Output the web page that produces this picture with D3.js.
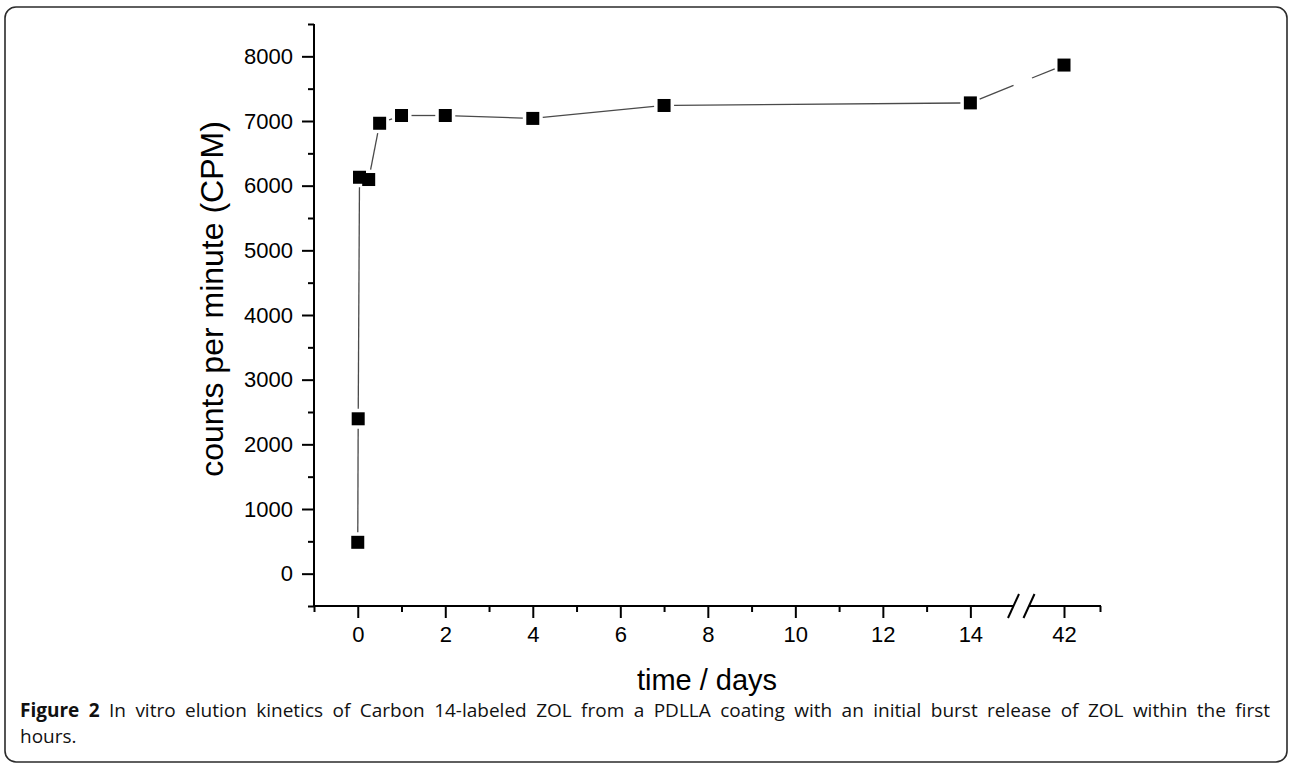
<!DOCTYPE html>
<html><head><meta charset="utf-8">
<script src="https://cdn.jsdelivr.net/npm/d3@7"></script>
<style>body{margin:0;background:#fff;} svg{display:block;}</style>
</head><body><svg id="chart" width="1290" height="768"></svg>
<script>
// ---- data ----
const timeDays = [0, 0.01, 0.04, 0.25, 0.5, 1, 2, 4, 7, 14, 42];
const cpm = [485, 2395, 6130, 6095, 6965, 7085, 7085, 7040, 7240, 7280, 7865];
const xTickValues = [0, 2, 4, 6, 8, 10, 12, 14, 42];
const xMinorTickValues = [-1, 1, 3, 5, 7, 9, 11, 13, 43];
const yTickValues = [0, 1000, 2000, 3000, 4000, 5000, 6000, 7000, 8000];
const yMinorTickValues = [-500, 500, 1500, 2500, 3500, 4500, 5500, 6500, 7500, 8500];
const xTitle = "time / days";
const yTitle = "counts per minute (CPM)";
const captionBold = "Figure 2";
const captionLines = [
  "In vitro elution kinetics of Carbon 14-labeled ZOL from a PDLLA coating with an initial burst release of ZOL within the first",
  "hours."
];

// ---- layout ----
const svg = d3.select("#chart");
const L = 314, R = 1100, T = 24, B = 606;
const x = d3.scaleLinear().domain([-1, 15.1, 41, 43]).range([L, 1018.5, 1028, R]);
const y = d3.scaleLinear().domain([-500, 8500]).range([B, T]);

// frame
svg.append("rect").attr("x", 5).attr("y", 7).attr("width", 1282).attr("height", 755)
  .attr("rx", 11).attr("fill", "none").attr("stroke", "#2b2b2b").attr("stroke-width", 1.6);

const axisFont = "'Liberation Sans', Arial, sans-serif";

// y axis
const gy = svg.append("g").attr("transform", `translate(${L},0)`);
gy.call(d3.axisLeft(y).tickValues(yTickValues).tickSize(12).tickSizeOuter(0).tickPadding(9).tickFormat(d3.format("d")));
gy.append("g").call(d3.axisLeft(y).tickValues(yMinorTickValues).tickSize(6).tickSizeOuter(0).tickFormat(""));
gy.selectAll(".domain").remove();
gy.selectAll("line").attr("stroke", "#000").attr("stroke-width", 2);
gy.selectAll("text").style("font-family", axisFont).style("font-size", "22px").attr("fill", "#000");
gy.append("line").attr("x1", 0).attr("x2", 0).attr("y1", T).attr("y2", B + 1)
  .attr("stroke", "#000").attr("stroke-width", 2);

// x axis
const gx = svg.append("g").attr("transform", `translate(0,${B})`);
gx.call(d3.axisBottom(x).tickValues(xTickValues).tickSize(12).tickSizeOuter(0).tickPadding(8).tickFormat(d3.format("d")));
gx.append("g").call(d3.axisBottom(x).tickValues(xMinorTickValues).tickSize(6).tickSizeOuter(0).tickFormat(""));
gx.selectAll(".domain").remove();
gx.selectAll("line").attr("stroke", "#000").attr("stroke-width", 2);
gx.selectAll("text").style("font-family", axisFont).style("font-size", "22px").attr("fill", "#000");
const brk1 = x(15.1) - 5, brk2 = x(41) + 1;
gx.append("line").attr("x1", L - 1).attr("x2", brk1).attr("y1", 0).attr("y2", 0).attr("stroke", "#000").attr("stroke-width", 2);
gx.append("line").attr("x1", brk2).attr("x2", R + 1).attr("y1", 0).attr("y2", 0).attr("stroke", "#000").attr("stroke-width", 2);
[brk1, brk2].forEach(c => {
  gx.append("line").attr("x1", c - 5.5).attr("y1", 12).attr("x2", c + 5.5).attr("y2", -12)
    .attr("stroke", "#000").attr("stroke-width", 2);
});

// axis titles
svg.append("text").attr("x", (L + R) / 2).attr("y", 690).attr("text-anchor", "middle")
  .style("font-family", axisFont).style("font-size", "29px").text(xTitle);
svg.append("text").attr("transform", `translate(223,299) rotate(-90)`).attr("text-anchor", "middle")
  .style("font-family", axisFont).style("font-size", "32px").text(yTitle);

// connecting line with gaps near markers and at axis break
const pts = timeDays.map((t, i) => [x(t), y(cpm[i])]);
const gap = 10, cutL = brk1, cutR = brk2 + 3;
const segs = [];
for (let i = 0; i < pts.length - 1; i++) {
  const [x0, y0] = pts[i], [x1, y1] = pts[i + 1];
  const len = Math.hypot(x1 - x0, y1 - y0);
  if (len <= 2 * gap + 1) continue;
  const ux = (x1 - x0) / len, uy = (y1 - y0) / len;
  const a = [x0 + ux * gap, y0 + uy * gap], b = [x1 - ux * gap, y1 - uy * gap];
  if (a[0] < cutL && b[0] > cutR) {
    const lerp = t => [a[0] + (b[0] - a[0]) * t, a[1] + (b[1] - a[1]) * t];
    segs.push([a, lerp((cutL - a[0]) / (b[0] - a[0]))]);
    segs.push([lerp((cutR - a[0]) / (b[0] - a[0])), b]);
  } else segs.push([a, b]);
}
svg.append("g").selectAll("path").data(segs).join("path")
  .attr("d", d3.line()).attr("fill", "none").attr("stroke", "#4a4a4a").attr("stroke-width", 1.3);

// markers
const ms = 13;
svg.append("g").selectAll("rect").data(timeDays).join("rect")
  .attr("x", d => x(d) - ms / 2).attr("y", (d, i) => y(cpm[i]) - ms / 2)
  .attr("width", ms).attr("height", ms).attr("fill", "#000");

// caption (justified first line)
const capFont = "'Open Sans', 'Noto Sans', sans-serif";
const capSize = 19;
const capLeft = 20, capRight = 1270;
function wordWidth(word, bold) {
  const t = svg.append("text").style("font-family", capFont).style("font-size", capSize + "px")
    .style("font-weight", bold ? "bold" : "normal").text(word);
  const w = t.node().getComputedTextLength();
  t.remove();
  return w;
}
const words1 = [...captionBold.split(" ").map(w => ({ w, b: true })), ...captionLines[0].split(" ").map(w => ({ w, b: false }))];
words1.forEach(o => o.len = wordWidth(o.w, o.b));
const total = d3.sum(words1, o => o.len);
const sp = (capRight - capLeft - total) / (words1.length - 1);
let cx = capLeft;
const cap1 = svg.append("text").attr("y", 717).style("font-family", capFont).style("font-size", capSize + "px").attr("fill", "#111");
words1.forEach(o => {
  cap1.append("tspan").attr("x", cx).style("font-weight", o.b ? "bold" : "normal").text(o.w);
  cx += o.len + sp;
});
svg.append("text").attr("x", capLeft).attr("y", 743).style("font-family", capFont)
  .style("font-size", capSize + "px").attr("fill", "#111").text(captionLines[1]);
</script></body></html>
